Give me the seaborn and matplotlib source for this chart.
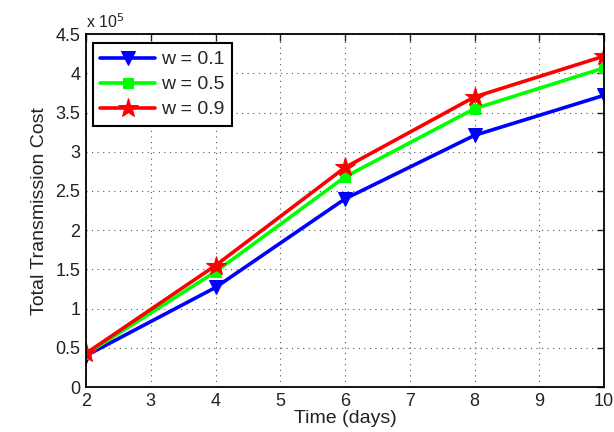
import pandas as pd
import seaborn as sns
import matplotlib.pyplot as plt

# Data (cost in units of 1e5)
days = [2, 4, 6, 8, 10]
cost_w01 = [0.40, 1.27, 2.40, 3.21, 3.72]
cost_w05 = [0.42, 1.47, 2.68, 3.55, 4.07]
cost_w09 = [0.43, 1.55, 2.80, 3.70, 4.22]
labels = ["w = 0.1", "w = 0.5", "w = 0.9"]

df = pd.DataFrame({
    "Time": days * 3,
    "Cost": cost_w01 + cost_w05 + cost_w09,
    "w": [labels[0]] * 5 + [labels[1]] * 5 + [labels[2]] * 5,
})

sns.set_style("white")
plt.rcParams['font.family'] = ['Liberation Sans', 'DejaVu Sans']

fig = plt.figure(figsize=(6.14, 4.32), dpi=100)
ax = fig.add_axes([0.140, 0.104, 0.844, 0.817])

palette = {labels[0]: "#0000ff", labels[1]: "#00ff00", labels[2]: "#ff0000"}
markers = {labels[0]: "v", labels[1]: "s", labels[2]: "*"}
sizes = {labels[0]: 10, labels[1]: 7, labels[2]: 15}

for lab in labels:
    sub = df[df["w"] == lab]
    sns.lineplot(data=sub, x="Time", y="Cost", ax=ax, color=palette[lab],
                 marker=markers[lab], markersize=sizes[lab], linewidth=2.6,
                 markeredgecolor=palette[lab], label=lab)

ax.set_xlim(2, 10)
ax.set_ylim(0, 4.5)
ax.set_xticks(range(2, 11))
yt = [0, 0.5, 1, 1.5, 2, 2.5, 3, 3.5, 4, 4.5]
ax.set_yticks(yt)
ax.set_yticklabels([f"{v:g}" for v in yt])
ax.grid(True, linestyle=(0, (1, 4)), color="#555555", linewidth=0.8)
ax.tick_params(direction="in", top=True, right=True, length=5, width=1,
               labelsize=13, colors="#222222", pad=4)
for s in ax.spines.values():
    s.set_color("black")
    s.set_linewidth(1.3)

ax.set_xlabel("Time (days)", fontsize=14, color="#222222", labelpad=0)
ax.set_ylabel("Total Transmission Cost", fontsize=14, color="#222222", labelpad=5)
ax.text(0.0, 1.01, r"x 10$^5$", transform=ax.transAxes, fontsize=11.5,
        color="#222222", ha="left", va="bottom")

leg = ax.legend(loc="upper left", bbox_to_anchor=(0.013, 0.975), fontsize=14,
                frameon=True, fancybox=False, framealpha=1, edgecolor="black",
                handlelength=2.8, handletextpad=0.3, borderpad=0.4,
                labelspacing=0.38, borderaxespad=0)
leg.get_frame().set_linewidth(1.5)

fig.savefig("out.png", dpi=100)
